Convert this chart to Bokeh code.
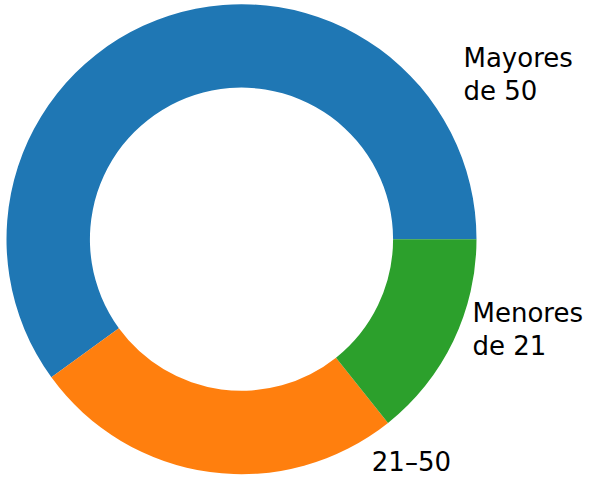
import numpy as np
from bokeh.plotting import figure
from bokeh.models import ColumnDataSource, Range1d
from bokeh.core.properties import value
from bokeh.embed import file_html
from bokeh.resources import INLINE

# Data
categories = ["Mayores\nde 50", "21–50", "Menores\nde 21"]
counts = [42, 18, 10]
colors = ["#1f77b4", "#ff7f0e", "#2ca02c"]

# Label anchor positions (layout, in units of the outer radius)
label_x = [0.9447, 0.5545, 0.983]
label_y = [0.7009, -0.9480, -0.3843]

vals = np.array(counts, dtype=float)
frac = vals / vals.sum()
ends = np.cumsum(frac) * 2 * np.pi
starts = np.concatenate([[0.0], ends[:-1]])

src = ColumnDataSource(dict(start=starts, end=ends, color=colors))
lab = ColumnDataSource(dict(x=label_x, y=label_y, text=categories))

p = figure(width=584, height=479, output_backend="svg", toolbar_location=None,
           x_range=Range1d(-1.02553, 1.45957), y_range=Range1d(-1.02255, 1.01574),
           min_border=0)
p.annular_wedge(x=0, y=0, inner_radius=0.645, outer_radius=1.0,
                start_angle="start", end_angle="end", color="color",
                line_color=None, source=src)
p.text(x="x", y="y", text="text", source=lab,
       text_font=value("DejaVu Sans"), text_font_size="26px",
       text_align="left", text_baseline="middle", text_line_height=1.12,
       text_color="black")

p.axis.visible = False
p.xgrid.visible = False
p.ygrid.visible = False
p.outline_line_color = None
p.background_fill_color = "white"
p.border_fill_color = "white"

open("out.html", "w").write(file_html(p, INLINE))
